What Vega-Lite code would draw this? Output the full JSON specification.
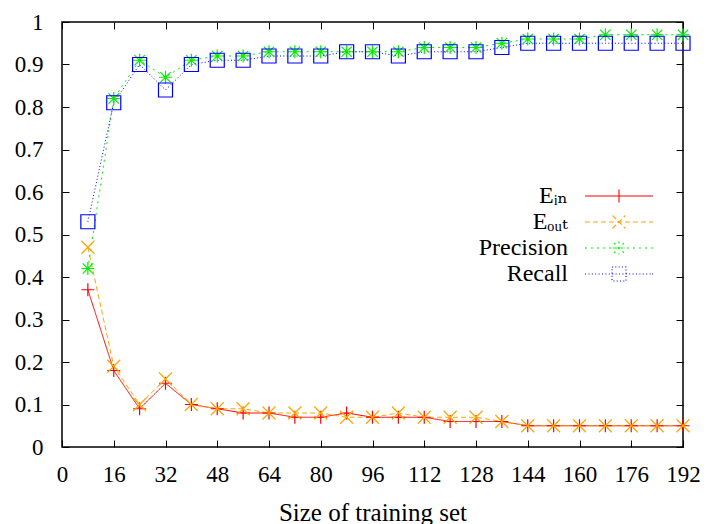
{
  "$schema": "https://vega.github.io/schema/vega-lite/v6.json",
  "width": 621,
  "height": 425,
  "autosize": {"type": "none"},
  "padding": {"left": 62, "top": 22, "right": 25, "bottom": 77},
  "background": "white",
  "config": {
    "view": {"stroke": "black", "strokeWidth": 1.5},
    "font": "'Liberation Serif', 'Times New Roman', 'DejaVu Serif', serif",
    "axis": {
      "domain": false, "grid": false, "tickColor": "black", "tickSize": -7, "tickWidth": 1,
      "labelFlush": false, "labelOverlap": false,
      "labelFont": "'Liberation Serif', 'Times New Roman', 'DejaVu Serif', serif", "labelFontSize": 23, "labelColor": "black",
      "titleFont": "'Liberation Serif', 'Times New Roman', 'DejaVu Serif', serif", "titleFontSize": 25, "titleFontWeight": "normal", "titleColor": "black"
    },
    "legend": {"labelFont": "'Liberation Serif', 'Times New Roman', 'DejaVu Serif', serif"}
  },
  "data": {"values": [
    {"n": 8, "series": "Ein", "v": 0.37}, {"n": 16, "series": "Ein", "v": 0.18}, {"n": 24, "series": "Ein", "v": 0.09}, {"n": 32, "series": "Ein", "v": 0.15},
    {"n": 40, "series": "Ein", "v": 0.10}, {"n": 48, "series": "Ein", "v": 0.09}, {"n": 56, "series": "Ein", "v": 0.08}, {"n": 64, "series": "Ein", "v": 0.08},
    {"n": 72, "series": "Ein", "v": 0.07}, {"n": 80, "series": "Ein", "v": 0.07}, {"n": 88, "series": "Ein", "v": 0.08}, {"n": 96, "series": "Ein", "v": 0.07},
    {"n": 104, "series": "Ein", "v": 0.07}, {"n": 112, "series": "Ein", "v": 0.07}, {"n": 120, "series": "Ein", "v": 0.06}, {"n": 128, "series": "Ein", "v": 0.06},
    {"n": 136, "series": "Ein", "v": 0.06}, {"n": 144, "series": "Ein", "v": 0.05}, {"n": 152, "series": "Ein", "v": 0.05}, {"n": 160, "series": "Ein", "v": 0.05},
    {"n": 168, "series": "Ein", "v": 0.05}, {"n": 176, "series": "Ein", "v": 0.05}, {"n": 184, "series": "Ein", "v": 0.05}, {"n": 192, "series": "Ein", "v": 0.05},
    {"n": 8, "series": "Eout", "v": 0.47}, {"n": 16, "series": "Eout", "v": 0.19}, {"n": 24, "series": "Eout", "v": 0.10}, {"n": 32, "series": "Eout", "v": 0.16},
    {"n": 40, "series": "Eout", "v": 0.10}, {"n": 48, "series": "Eout", "v": 0.09}, {"n": 56, "series": "Eout", "v": 0.09}, {"n": 64, "series": "Eout", "v": 0.08},
    {"n": 72, "series": "Eout", "v": 0.08}, {"n": 80, "series": "Eout", "v": 0.08}, {"n": 88, "series": "Eout", "v": 0.07}, {"n": 96, "series": "Eout", "v": 0.07},
    {"n": 104, "series": "Eout", "v": 0.08}, {"n": 112, "series": "Eout", "v": 0.07}, {"n": 120, "series": "Eout", "v": 0.07}, {"n": 128, "series": "Eout", "v": 0.07},
    {"n": 136, "series": "Eout", "v": 0.06}, {"n": 144, "series": "Eout", "v": 0.05}, {"n": 152, "series": "Eout", "v": 0.05}, {"n": 160, "series": "Eout", "v": 0.05},
    {"n": 168, "series": "Eout", "v": 0.05}, {"n": 176, "series": "Eout", "v": 0.05}, {"n": 184, "series": "Eout", "v": 0.05}, {"n": 192, "series": "Eout", "v": 0.05},
    {"n": 8, "series": "Precision", "v": 0.42}, {"n": 16, "series": "Precision", "v": 0.82}, {"n": 24, "series": "Precision", "v": 0.91}, {"n": 32, "series": "Precision", "v": 0.87},
    {"n": 40, "series": "Precision", "v": 0.91}, {"n": 48, "series": "Precision", "v": 0.92}, {"n": 56, "series": "Precision", "v": 0.92}, {"n": 64, "series": "Precision", "v": 0.93},
    {"n": 72, "series": "Precision", "v": 0.93}, {"n": 80, "series": "Precision", "v": 0.93}, {"n": 88, "series": "Precision", "v": 0.93}, {"n": 96, "series": "Precision", "v": 0.93},
    {"n": 104, "series": "Precision", "v": 0.93}, {"n": 112, "series": "Precision", "v": 0.94}, {"n": 120, "series": "Precision", "v": 0.94}, {"n": 128, "series": "Precision", "v": 0.94},
    {"n": 136, "series": "Precision", "v": 0.95}, {"n": 144, "series": "Precision", "v": 0.96}, {"n": 152, "series": "Precision", "v": 0.96}, {"n": 160, "series": "Precision", "v": 0.96},
    {"n": 168, "series": "Precision", "v": 0.97}, {"n": 176, "series": "Precision", "v": 0.97}, {"n": 184, "series": "Precision", "v": 0.97}, {"n": 192, "series": "Precision", "v": 0.97},
    {"n": 8, "series": "Recall", "v": 0.53}, {"n": 16, "series": "Recall", "v": 0.81}, {"n": 24, "series": "Recall", "v": 0.90}, {"n": 32, "series": "Recall", "v": 0.84},
    {"n": 40, "series": "Recall", "v": 0.90}, {"n": 48, "series": "Recall", "v": 0.91}, {"n": 56, "series": "Recall", "v": 0.91}, {"n": 64, "series": "Recall", "v": 0.92},
    {"n": 72, "series": "Recall", "v": 0.92}, {"n": 80, "series": "Recall", "v": 0.92}, {"n": 88, "series": "Recall", "v": 0.93}, {"n": 96, "series": "Recall", "v": 0.93},
    {"n": 104, "series": "Recall", "v": 0.92}, {"n": 112, "series": "Recall", "v": 0.93}, {"n": 120, "series": "Recall", "v": 0.93}, {"n": 128, "series": "Recall", "v": 0.93},
    {"n": 136, "series": "Recall", "v": 0.94}, {"n": 144, "series": "Recall", "v": 0.95}, {"n": 152, "series": "Recall", "v": 0.95}, {"n": 160, "series": "Recall", "v": 0.95},
    {"n": 168, "series": "Recall", "v": 0.95}, {"n": 176, "series": "Recall", "v": 0.95}, {"n": 184, "series": "Recall", "v": 0.95}, {"n": 192, "series": "Recall", "v": 0.95}
  ]},
  "layer": [
    {
      "mark": {"type": "line", "strokeWidth": 1},
      "encoding": {
        "x": {"field": "n", "type": "quantitative", "scale": {"domain": [0, 192], "nice": false, "zero": false},
          "axis": {"orient": "bottom", "values": [0, 16, 32, 48, 64, 80, 96, 112, 128, 144, 160, 176, 192], "title": "Size of training set", "labelPadding": 23, "titlePadding": 14}},
        "y": {"field": "v", "type": "quantitative", "scale": {"domain": [0, 1], "nice": false},
          "axis": {"orient": "left", "values": [0, 0.1, 0.2, 0.3, 0.4, 0.5, 0.6, 0.7, 0.8, 0.9, 1], "format": ".1~f", "title": null, "labelPadding": 26}},
        "color": {"field": "series", "type": "nominal",
          "scale": {"domain": ["Ein", "Eout", "Precision", "Recall"], "range": ["#ff0000", "#ffa500", "#00ee00", "#0000ff"]},
          "legend": {"title": null, "orient": "none", "legendX": 545, "legendY": 162, "padding": 0, "symbolType": "stroke",
            "symbolSize": 100, "symbolStrokeWidth": 1, "symbolFillColor": "transparent", "rowPadding": 2,
            "labelAlign": "right", "labelOffset": -63, "labelFontSize": 24, "labelColor": "black", "labelLimit": 300,
            "labelExpr": "datum.value == 'Ein' ? 'Eᵢₙ' : datum.value == 'Eout' ? 'Eₒᵤₜ' : datum.label",
            "encode": {"symbols": {"update": {
              "opacity": {"value": 1},
              "strokeWidth": {"value": 1.1},
              "strokeDash": {"value": [1, 0]},
              "stroke": {"signal": "datum.value == 'Ein' ? '#ff0000' : datum.value == 'Eout' ? '#ffa500' : datum.value == 'Precision' ? '#00ee00' : '#0000ff'"},
              "fill": {"value": "transparent"},
              "shape": {"signal": "datum.value == 'Ein' ? 'M-6.8,0H6.8M0,-1.3V1.3' : datum.value == 'Eout' ? 'M-6.8,0H-5.8M-5.2,0H-4.2M-3.6,0H-2.6M-2,0H-1M-0.4,0H0.6M1.2,0H2.2M2.8,0H3.8M4.4,0H5.4M6,0H6.8M-1.3,-1.3L1.3,1.3M-1.3,1.3L1.3,-1.3' : datum.value == 'Precision' ? 'M-6.8,0H-6.4M-5.6,0H-5.2M-4.4,0H-4M-3.2,0H-2.8M-2,0H-1.6M-0.8,0H-0.4M0.4,0H0.8M1.6,0H2M2.8,0H3.2M4,0H4.4M5.2,0H5.6M6.4,0H6.8M-1.3,0H1.3M0,-1.3V1.3M-1,-1L1,1M-1,1L1,-1' : 'M-6.8,0H-6.6M-6.12,0H-5.92M-5.44,0H-5.24M-4.76,0H-4.56M-4.08,0H-3.88M-3.4,0H-3.2M-2.72,0H-2.52M-2.04,0H-1.84M-1.36,0H-1.16M-0.68,0H-0.48M0,0H0.2M0.68,0H0.88M1.36,0H1.56M2.04,0H2.24M2.72,0H2.92M3.4,0H3.6M4.08,0H4.28M4.76,0H4.96M5.44,0H5.64M6.12,0H6.32M6.6,0H6.8M-1.4,-1.4H1.4V1.4H-1.4Z'"}
            }}}}},
        "strokeDash": {"field": "series", "type": "nominal", "legend": null,
          "scale": {"domain": ["Ein", "Eout", "Precision", "Recall"], "range": [[1, 0], [5, 3], [2, 4], [1, 2.3]]}}
      }
    },
    {
      "mark": {"type": "point", "filled": false, "strokeWidth": 1.2, "size": 169, "opacity": 1},
      "encoding": {
        "x": {"field": "n", "type": "quantitative", "axis": {"orient": "top", "values": [0, 16, 32, 48, 64, 80, 96, 112, 128, 144, 160, 176, 192], "labels": false, "title": null}},
        "y": {"field": "v", "type": "quantitative", "axis": {"orient": "right", "values": [0, 0.1, 0.2, 0.3, 0.4, 0.5, 0.6, 0.7, 0.8, 0.9, 1], "labels": false, "title": null}},
        "color": {"field": "series", "type": "nominal"},
        "shape": {"field": "series", "type": "nominal", "legend": null,
          "scale": {"range": ["M-1,0H1M0,-1V1", "M-1,-1L1,1M-1,1L1,-1", "M-1,0H1M0,-1V1M-0.8,-0.8L0.8,0.8M-0.8,0.8L0.8,-0.8", "M-1.08,-1.08H1.08V1.08H-1.08Z"]}}
      }
    }
  ],
  "resolve": {"axis": {"x": "independent", "y": "independent"}}
}
